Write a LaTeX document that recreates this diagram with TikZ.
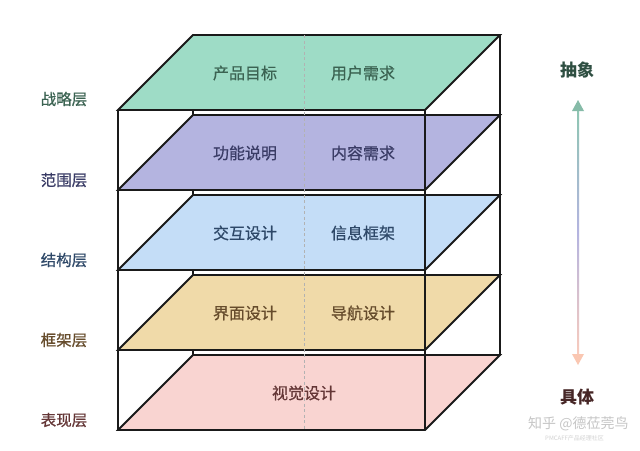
\documentclass[tikz,border=0pt]{standalone}
\usepackage{fontspec}
\newfontfamily\cjk{Noto Sans CJK SC}
\newfontfamily\cjkm[FakeBold=0.7]{Noto Sans CJK SC}
\usetikzlibrary{calc}
\definecolor{pgreen}{HTML}{9EDCC6}
\definecolor{ppurple}{HTML}{B4B4E0}
\definecolor{pblue}{HTML}{C4DDF7}
\definecolor{ptan}{HTML}{F0DAA9}
\definecolor{ppink}{HTML}{F9D4D1}
\definecolor{tgreen}{HTML}{3B6352}
\definecolor{tpurple}{HTML}{3A3C66}
\definecolor{tblue}{HTML}{2E4868}
\definecolor{ttan}{HTML}{664C2C}
\definecolor{tpink}{HTML}{643636}
\definecolor{edge}{HTML}{1A1A1A}
\tikzset{
  planeedge/.style={draw=edge, line width=1.8pt, line join=miter},
  boxedge/.style={draw=edge, line width=1.8pt},
  lbl/.style={font=\cjkm\fontsize{16}{18}\selectfont, inner sep=0pt, anchor=center},
  sidelbl/.style={font=\cjkm\fontsize{15.5}{18}\selectfont, inner sep=0pt, anchor=center},
  endlbl/.style={font=\cjk\fontsize{17}{20}\selectfont\bfseries, inner sep=0pt, anchor=center}
}
\begin{document}
\begin{tikzpicture}[x=1pt,y=-1pt]
\useasboundingbox (0,0) rectangle (640,450);
\fill[white] (0,0) rectangle (640,450);
% hidden back-left edge
\coordinate (bltop) at (193,35);
\coordinate (blbot) at (193,355);
\draw[boxedge] (bltop) -- (blbot);
% planes
\foreach \y/\c/\n in {35/pgreen/p1,115/ppurple/p2,195/pblue/p3,275/ptan/p4,355/ppink/p5}{
  \coordinate (\n bl) at (193,\y);
  \coordinate (\n br) at (500,\y);
  \coordinate (\n fr) at (425,\y+75);
  \coordinate (\n fl) at (118,\y+75);
  \filldraw[planeedge, fill=\c] (\n bl) -- (\n br) -- (\n fr) -- (\n fl) -- cycle;
}
% visible box edges
\coordinate (fltop) at (118,110);
\coordinate (flbot) at (118,430);
\coordinate (frtop) at (425,110);
\coordinate (frbot) at (425,430);
\coordinate (brtop) at (500,35);
\coordinate (brbot) at (500,355);
\draw[boxedge] (fltop) -- (flbot);
\draw[boxedge] (frtop) -- (frbot);
\draw[boxedge] (brtop) -- (brbot);
% centre dashed line
\coordinate (ctop) at (304,35);
\coordinate (cbot) at (304,430);
\draw[gray!60, line width=0.6pt, dash pattern=on 3pt off 2.5pt] (ctop) -- (cbot);
% plane texts
\node[lbl, text=tgreen]  (t1a) at (245,73)  {产品目标};
\node[lbl, text=tgreen]  (t1b) at (363,73)  {用户需求};
\node[lbl, text=tpurple] (t2a) at (245,153) {功能说明};
\node[lbl, text=tpurple] (t2b) at (363,153) {内容需求};
\node[lbl, text=tblue]   (t3a) at (245,233) {交互设计};
\node[lbl, text=tblue]   (t3b) at (363,233) {信息框架};
\node[lbl, text=ttan]    (t4a) at (245,313) {界面设计};
\node[lbl, text=ttan]    (t4b) at (363,313) {导航设计};
\node[lbl, text=tpink]   (t5a) at (304,393) {视觉设计};
% side labels
\node[sidelbl, text=tgreen]  (s1) at (64,99)  {战略层};
\node[sidelbl, text=tpurple] (s2) at (64,180) {范围层};
\node[sidelbl, text=tblue]   (s3) at (64,260) {结构层};
\node[sidelbl, text=ttan]    (s4) at (64,340) {框架层};
\node[sidelbl, text=tpink]   (s5) at (64,420) {表现层};
% abstract/concrete
\node[endlbl, text=tgreen!80!black] (abs) at (577,70) {抽象};
\node[endlbl, text=tpink!70!black]  (con) at (577,397) {具体};
\coordinate (atop) at (578,100);
\coordinate (abot) at (578,365);
\shade[top color=pgreen!90!black, bottom color=ppink!90!orange, middle color=ppurple]
  ($(atop)+(-1,9)$) rectangle ($(abot)+(1,-9)$);
\fill[pgreen!85!black] (atop) -- ++(6,11) -- ++(-12,0) -- cycle;
\fill[ppink!85!orange] (abot) -- ++(6,-11) -- ++(-12,0) -- cycle;
% watermark
\node[font=\cjk\fontsize{14}{16}\selectfont, text=gray!45, inner sep=0pt, anchor=west] (wm) at (528,424) {知乎 @德莅莞鸟};
\node[font=\cjk\fontsize{6}{7}\selectfont, text=gray!35, inner sep=0pt, anchor=west] (wm2) at (545,438) {PMCAFF产品经理社区};
\end{tikzpicture}
\end{document}
